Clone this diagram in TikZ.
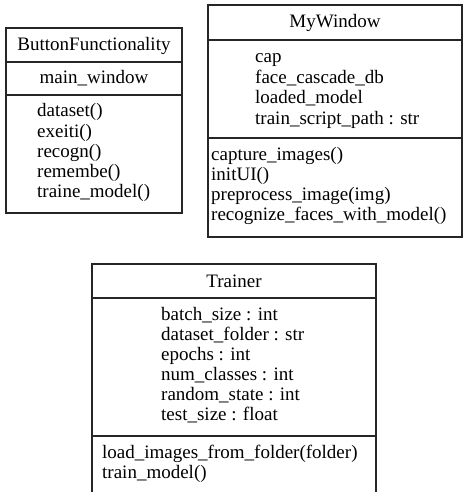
\documentclass[tikz,border=0pt]{standalone}
\usepackage{fontspec}
\setmainfont{Liberation Serif}
\begin{document}
\begin{tikzpicture}[x=1pt,y=-1pt,
  box/.style={draw=black!85,line width=1.1pt},
  sep/.style={draw=black!85,line width=1.1pt},
  txt/.style={inner sep=0pt,font=\fontsize{19}{20}\selectfont,text=black}]
\clip (0,0) rectangle (463,492);
\fill[white] (0,0) rectangle (463,492);
% ButtonFunctionality
\draw[box] (6,28) rectangle (182,213);
\draw[sep] (6,62) -- (182,62);
\draw[sep] (6,95) -- (182,95);
\node[txt,anchor=base] (bft) at (94,51) {ButtonFunctionality};
\node[txt,anchor=base] (bfa) at (94,84) {main\_window};
\foreach \t [count=\i] in {dataset(),exeiti(),recogn(),remembe(),traine\_model()}
  \node[txt,anchor=base west] (bfm\i) at (37,{117+20*(\i-1)}) {\t};
% MyWindow
\draw[box] (208,5) rectangle (462,237);
\draw[sep] (208,40) -- (462,40);
\draw[sep] (208,138) -- (462,138);
\node[txt,anchor=base] (mwt) at (335,28) {MyWindow};
\foreach \t [count=\i] in {cap,face\_cascade\_db,loaded\_model,train\_script\_path : str}
  \node[txt,anchor=base west] (mwa\i) at (255,{63+20.4*(\i-1)}) {\t};
\foreach \t [count=\i] in {capture\_images(),initUI(),preprocess\_image(img),recognize\_faces\_with\_model()}
  \node[txt,anchor=base west] (mwm\i) at (211,{160+20*(\i-1)}) {\t};
% Trainer
\draw[box] (92,264) rectangle (376,494);
\draw[sep] (92,298) -- (376,298);
\draw[sep] (92,436) -- (376,436);
\node[txt,anchor=base] (trt) at (234,287) {Trainer};
\foreach \t [count=\i] in {batch\_size : int,dataset\_folder : str,epochs : int,num\_classes : int,random\_state : int,test\_size : float}
  \node[txt,anchor=base west] (tra\i) at (161,{320+20*(\i-1)}) {\t};
\foreach \t [count=\i] in {load\_images\_from\_folder(folder),train\_model()}
  \node[txt,anchor=base west] (trm\i) at (102,{458+20*(\i-1)}) {\t};
\end{tikzpicture}
\end{document}
